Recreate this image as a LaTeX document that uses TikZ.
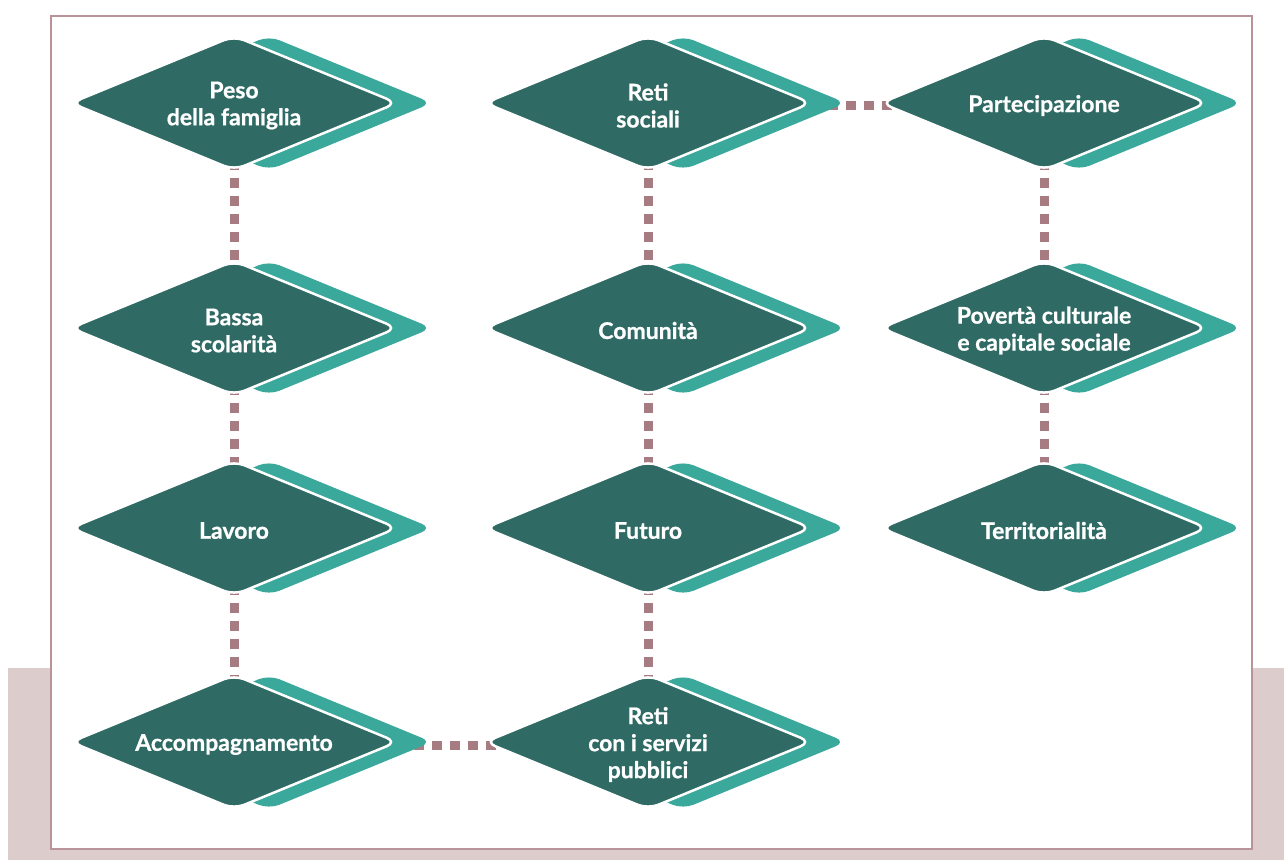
\documentclass[tikz,border=0pt]{standalone}
\usepackage{fontspec}
\setmainfont{Lato}[BoldFeatures={FakeBold=0.8}]
\definecolor{dkgreen}{HTML}{2F6B64}
\definecolor{tealc}{HTML}{3AA89A}
\definecolor{mauve}{HTML}{A67C82}
\definecolor{pinkbg}{HTML}{DCCCCC}
\definecolor{framec}{HTML}{B8939A}
\pgfdeclarelayer{bglayer}
\pgfdeclarelayer{connlayer}
\pgfsetlayers{bglayer,connlayer,main}
\tikzset{
  lbl/.style={text=white, font=\fontsize{23}{27}\selectfont\bfseries, align=center, inner sep=0pt, yshift=-2.5pt},
  conn/.style={draw=mauve, line width=9pt, dash pattern=on 10pt off 8pt},
  backshape/.style={fill=tealc, rounded corners=11pt},
  frontshape/.style={fill=dkgreen, draw=white, line width=2.5pt, rounded corners=11pt}
}
\newcommand\dmd[4]{%
  \fill[backshape] ({#2+35-163},{#3}) -- ({#2+35},{#3-67}) -- ({#2+35+163},{#3}) -- ({#2+35},{#3+67}) -- cycle;
  \filldraw[frontshape] ({#2-163},{#3}) -- ({#2},{#3-67}) -- ({#2+163},{#3}) -- ({#2},{#3+67}) -- cycle;
  \node[lbl] (#1) at ({#2},{#3}) {#4};
}
\begin{document}
\begin{tikzpicture}[x=1pt,y=-1pt]
\useasboundingbox (0,0) rectangle (1284,860);
\begin{pgfonlayer}{bglayer}
  \fill[white] (0,0) rectangle (1284,860);
  \fill[pinkbg] (8,668) rectangle (1284,860);
  \filldraw[fill=white, draw=framec, line width=1.8pt] (51,16) rectangle (1252,849);
\end{pgfonlayer}
\dmd{peso}{234}{103}{Peso\\della famiglia}
\dmd{bassa}{234}{328}{Bassa\\scolarità}
\dmd{lavoro}{234}{528}{Lavoro}
\dmd{accomp}{234}{742}{Accompagnamento}
\dmd{retisoc}{648}{103}{Reti\\sociali}
\dmd{comunita}{648}{328}{Comunità}
\dmd{futuro}{648}{528}{Futuro}
\dmd{retiserv}{648}{742}{Reti\\con i servizi\\pubblici}
\dmd{partec}{1044}{103}{Partecipazione}
\dmd{poverta}{1044}{328}{Povertà culturale\\e capitale sociale}
\dmd{territ}{1044}{528}{Territorialità}
\begin{pgfonlayer}{connlayer}
  \draw[conn] (peso.center) -- (bassa.center);
  \draw[conn] (bassa.center) -- (lavoro.center);
  \draw[conn] (lavoro.center) -- (accomp.center);
  \draw[conn] ([yshift=-1pt]accomp.center) -- ([yshift=-1pt]retiserv.center);
  \draw[conn] (retisoc.center) -- (comunita.center);
  \draw[conn] (comunita.center) -- (futuro.center);
  \draw[conn] (futuro.center) -- (retiserv.center);
  \draw[conn] (retisoc.center) -- (partec.center);
  \draw[conn] (partec.center) -- (poverta.center);
  \draw[conn] (poverta.center) -- (territ.center);
\end{pgfonlayer}
\end{tikzpicture}
\end{document}
